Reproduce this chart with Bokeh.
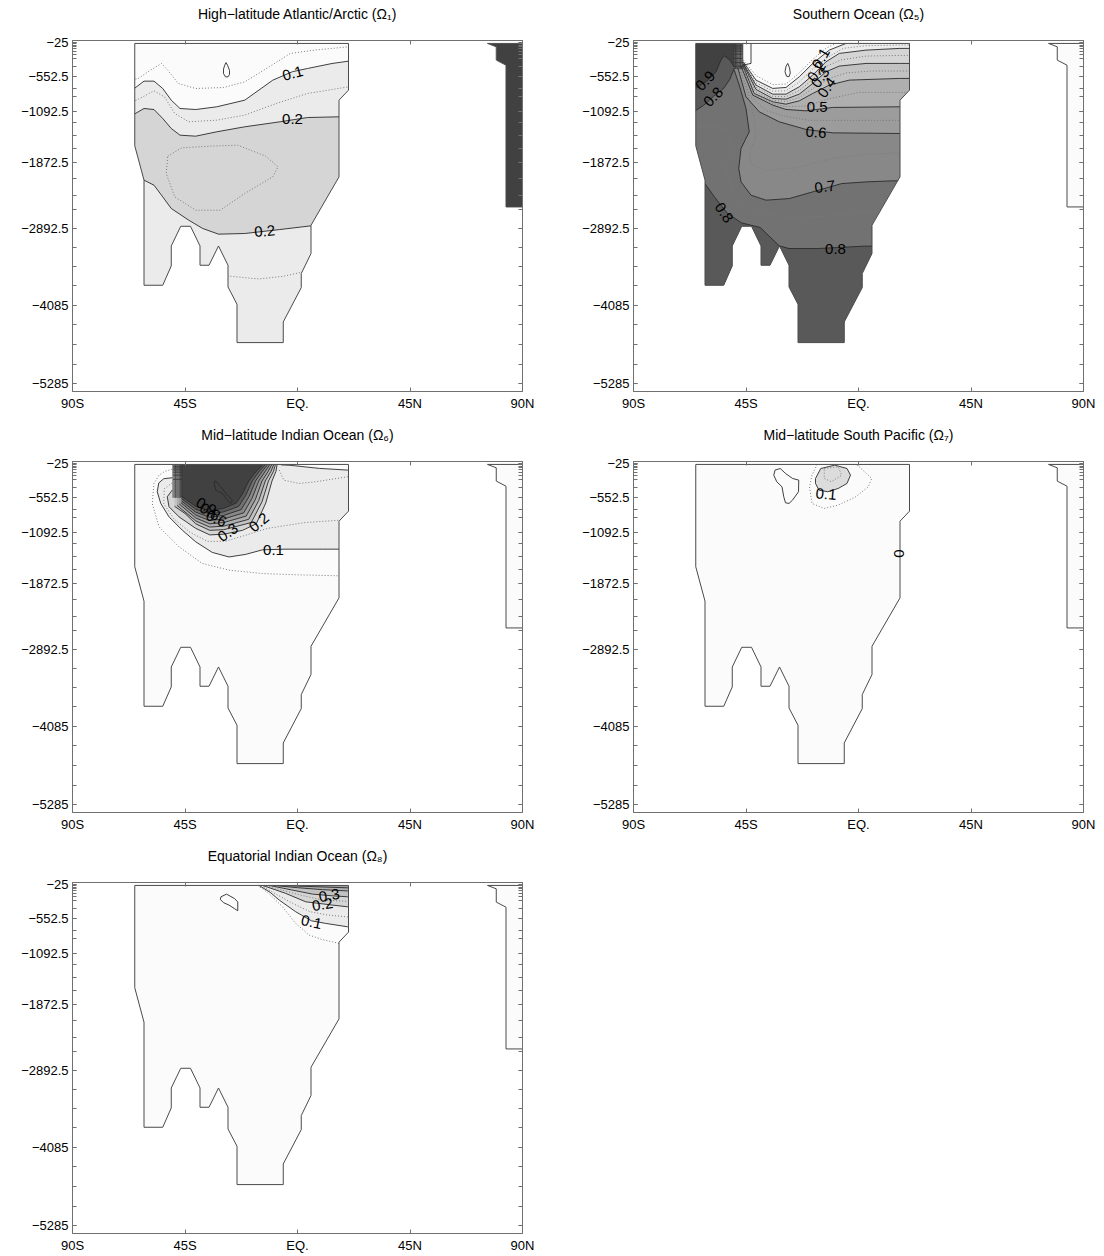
from bokeh.plotting import figure
from bokeh.models import FixedTicker, LinearAxis, Range1d
from bokeh.layouts import gridplot
from bokeh.embed import file_html
from bokeh.resources import INLINE
from bokeh.core.properties import value

FONT = "Liberation Sans"

# ---------------- axes ----------------
X_TICKS = [-90, -45, 0, 45, 90]
X_LABELS = ["90S", "45S", "EQ.", "45N", "90N"]
Y_MAJOR = [25, 552.5, 1092.5, 1872.5, 2892.5, 4085, 5285]
Y_LABELS = ["\u221225", "\u2212552.5", "\u22121092.5", "\u22121872.5", "\u22122892.5", "\u22124085", "\u22125285"]
Y_LEVELS = [25, 48, 73, 100, 130, 165, 210, 275, 395, 552.5, 740, 870, 1092.5, 1270, 1460, 1670,
            1872.5, 2130, 2380, 2600, 2892.5, 3190, 3480, 3780, 4085, 4380, 4680, 4985, 5285]
Y_BOTTOM, Y_TOP = -5405, 0

TITLES = ["High\u2212latitude Atlantic/Arctic (\u03a9\u2081)", "Southern Ocean (\u03a9\u2085)",
          "Mid\u2212latitude Indian Ocean (\u03a9\u2086)", "Mid\u2212latitude South Pacific (\u03a9\u2087)",
          "Equatorial Indian Ocean (\u03a9\u2088)"]

# gray level for each 0.1 band (0-0.1 ... >0.9)
BAND = ["#fbfbfb", "#ebebeb", "#d5d5d5", "#c2c2c2", "#afafaf", "#9c9c9c", "#888888", "#727272", "#595959", "#414141"]

# ---------------- basin outline (lat, depth m) ----------------
OCEAN = [(-65.1, 45), (20.4, 45), (20.4, 764), (16.6, 919), (16.6, 2100), (5.4, 2845), (5.4, 3280),
         (1.5, 3589), (1.5, 3805), (-5.7, 4334), (-5.7, 4652), (-24.2, 4652), (-24.2, 4062),
         (-27.8, 3795), (-27.8, 3461), (-31.6, 3164), (-35.4, 3461), (-39.0, 3461), (-39.0, 3164),
         (-42.8, 2861), (-46.7, 2861), (-50.5, 3164), (-50.5, 3471), (-53.9, 3769), (-61.4, 3769),
         (-61.4, 2151), (-65.1, 1621)]
ARCTIC = [(76.0, 45), (79.5, 97), (79.5, 302), (83.4, 380), (83.4, 2563), (90, 2563), (90, 45)]
OUTER = [(-100, -100), (100, -100), (100, 5600), (-100, 5600)]

# ---------------- panel 1 : High-latitude Atlantic/Arctic ----------------
P1_C01 = [(-66, 760), (-61.4, 626), (-57.4, 626), (-53.9, 739), (-50.5, 919), (-47.0, 1047), (-40.7, 1063),
          (-32.3, 1021), (-21.1, 919), (-9.9, 611), (-2.0, 480), (4.0, 431), (13.8, 354), (20.4, 318), (30, 310)]
P1_C02U = [(-66, 1150), (-61.4, 1047), (-57.4, 1063), (-53.9, 1201), (-50.5, 1355), (-47.0, 1458), (-40.7, 1473),
           (-32.3, 1406), (-21.1, 1329), (-7.0, 1252), (4.0, 1186), (16.6, 1175), (30, 1175)]
P1_C02L = [(-66, 2140), (-61.4, 2151), (-57.4, 2228), (-53.9, 2408), (-50.5, 2587), (-43.5, 2767), (-37.9, 2895),
           (-31.6, 2982), (-21.1, 2972), (-7.1, 2911), (5.4, 2854), (20, 2830)]
P1_D005 = [(-66, 600), (-63.7, 585), (-58.8, 456), (-54.4, 354), (-51.9, 456), (-47.7, 662), (-40.7, 739),
           (-29.5, 724), (-21.1, 637), (-11.3, 405), (-2.9, 200), (6.8, 148), (20.4, 97), (30, 95)]
P1_D015 = [(-66, 930), (-64.4, 919), (-57.4, 775), (-53.2, 868), (-49.1, 1124), (-43.5, 1252), (-32.3, 1227),
           (-21.1, 1149), (-8.5, 970), (4.0, 816), (20.4, 714), (30, 710)]
P1_D025 = [(-51.9, 1781), (-46.3, 1653), (-35.1, 1627), (-23.9, 1612), (-12.7, 1781), (-7.8, 1945), (-9.9, 2099),
           (-21.1, 2356), (-30.9, 2613), (-40.7, 2613), (-49.1, 2408), (-52.5, 2048), (-51.9, 1781)]
P1_D015B = [(-28, 3625), (-26.7, 3631), (-15.5, 3672), (-5.7, 3631), (1.5, 3570), (3, 3560)]
P1_ISLAND = [(-28.6, 340), (-28.0, 380), (-27.2, 460), (-27.2, 520), (-27.8, 560), (-28.8, 560), (-29.6, 510),
             (-29.6, 440), (-29.1, 380), (-28.6, 340)]
P1_LABELS = [("0.1", -1.9, 507, 15), ("0.2", -2.0, 1211, 0), ("0.2", -13.1, 2937, 5)]

# ---------------- panel 2 : Southern Ocean ----------------
P2_C01 = [(-46.1, 328), (-41.0, 610), (-34.3, 738), (-29.0, 723), (-23.7, 559), (-18.3, 353), (-11.7, 148),
          (-5.0, 45), (-3.0, 0)]
P2_C02 = [(-46.1, 353), (-41.0, 687), (-34.3, 826), (-29.0, 826), (-23.7, 713), (-18.3, 533), (-13.0, 328),
          (-7.7, 199), (3.0, 148), (16.3, 122), (30, 120)]
P2_C03 = [(-46.1, 369), (-41.0, 754), (-34.3, 893), (-29.0, 903), (-23.7, 826), (-18.3, 661), (-13.0, 482),
          (-7.7, 394), (3.0, 353), (16.3, 353), (30, 353)]
P2_C04 = [(-46.3, 384), (-41.7, 815), (-34.3, 944), (-29.0, 980), (-23.7, 929), (-18.3, 815), (-11.7, 687),
          (-3.7, 610), (16.3, 584), (30, 584)]
P2_C05 = [(-47.0, 394), (-42.3, 841), (-34.3, 995), (-29.0, 1062), (-21.0, 1083), (-10.3, 1031), (16.3, 1021),
          (30, 1021)]
P2_C06 = [(-48.3, 415), (-45.0, 867), (-39.7, 1098), (-31.7, 1252), (-21.0, 1370), (-10.3, 1422), (16.3, 1432),
          (30, 1432)]
P2_C07 = [(-49.7, 456), (-47.7, 687), (-45.0, 1047), (-43.7, 1406), (-47.0, 1663), (-47.9, 1971), (-47.0, 2177),
          (-43.0, 2382), (-37.0, 2459), (-27.7, 2434), (-18.3, 2331), (-6.7, 2203), (3.2, 2177), (13.0, 2162),
          (30, 2150)]
P2_C08U = [(-70, 1100), (-66, 1100), (-62, 1000), (-58, 860), (-54, 740), (-51.5, 600), (-49.7, 430)]
P2_C09 = [(-70, 760), (-66, 760), (-60.5, 620), (-57.0, 482), (-55.0, 300), (-53.7, 235), (-51.5, 300),
          (-49.7, 405)]
P2_C08L = [(-70, 2150), (-61.5, 2200), (-57.4, 2420), (-52.4, 2664), (-46.8, 2808), (-39.3, 2880), (-31.7, 3162),
           (-27.8, 3204), (-16.5, 3204), (1.8, 3168), (30, 3160)]
P2_D005 = [(-46.1, 300), (-41.0, 540), (-34.3, 680), (-29.0, 670), (-23.7, 500), (-18.3, 290), (-13.0, 120),
           (-9.0, 40)]
P2_D015 = [(-46.1, 340), (-41.0, 650), (-34.3, 780), (-29.0, 775), (-23.7, 640), (-18.3, 440), (-12.0, 250),
           (-6.0, 120), (3.0, 80), (16.3, 70), (30, 70)]
P2_D025 = [(-46.1, 360), (-41.0, 720), (-34.3, 860), (-29.0, 865), (-23.7, 770), (-18.3, 600), (-13.0, 400),
           (-7.0, 300), (3.0, 240), (16.3, 230), (30, 230)]
P2_D035 = [(-46.2, 377), (-41.3, 785), (-34.3, 920), (-29.0, 940), (-23.7, 880), (-18.3, 740), (-12.0, 590),
           (-5.0, 500), (5.0, 470), (16.3, 470), (30, 470)]
P2_D045 = [(-46.6, 390), (-42.0, 830), (-34.3, 970), (-29.0, 1020), (-21.0, 1010), (-12.0, 900), (0.0, 800),
           (16.3, 800), (30, 800)]
P2_D055 = [(-47.5, 400), (-43.5, 850), (-37.0, 1080), (-30.0, 1160), (-20.0, 1230), (-10.0, 1230), (16.3, 1230),
           (30, 1230)]
P2_D065 = [(-47.8, 440), (-44.5, 800), (-42.0, 1150), (-41.0, 1500), (-43.5, 1700), (-43.0, 1900), (-37.0, 2000),
           (-25.0, 1960), (-12.0, 1830), (0.0, 1760), (17.0, 1730), (30, 1720)]
P2_D075 = [(-70, 1340), (-66, 1340), (-56, 1320), (-52, 1400), (-51, 1700), (-53, 2000), (-50, 2350),
           (-44, 2580), (-36, 2680), (-26, 2730), (-12, 2700), (0, 2650), (16, 2600), (30, 2600)]
P2_NOTCH = [(-43.0, 45), (-43.0, 353), (-46.3, 379)]
P2_HATCH_LATS = [-49.7, -49.2, -48.7, -48.2, -47.7, -47.2, -46.7, -46.3]
P2_HATCH_DEPTHS = [73, 100, 130, 165, 210, 275, 340, 395]
P2_HATCH_BOTTOM = 440
P2_ISLAND = [(-28.3, 353), (-27.6, 420), (-27.3, 500), (-27.8, 558), (-28.8, 550), (-29.4, 480), (-29.0, 400),
             (-28.3, 353)]
P2_LABELS = [("0.1", -15.0, 276, 60), ("0.2", -16.8, 480, 55), ("0.3", -15.3, 570, 55), ("0.4", -12.7, 725, 55),
             ("0.5", -16.5, 1031, 0), ("0.6", -17.0, 1416, -5), ("0.7", -13.4, 2254, 8), ("0.8", -9.2, 3204, 0),
             ("0.8", -53.8, 2650, -55), ("0.9", -61.3, 620, 45), ("0.8", -58.1, 867, 45)]

# ---------------- panel 3 : Mid-latitude Indian Ocean ----------------
P3_C01 = [(-50.1, 250), (-53.5, 265), (-55.5, 330), (-56.1, 466), (-54.7, 646), (-51.4, 852), (-46.1, 1057),
          (-40.7, 1237), (-34.1, 1400), (-27.4, 1470), (-20.7, 1430), (-14.0, 1360), (-5.0, 1350), (10.0, 1350),
          (30, 1350)]
P3_C01S = [(-7.6, 20), (-6.5, 52), (-3.0, 58), (8.7, 106), (20.0, 132), (30, 135)]
P3_C02 = [(-50.1, 440), (-52.1, 543), (-51.4, 697), (-47.4, 852), (-40.7, 1030), (-35.1, 1130), (-29.5, 1120),
          (-22.0, 1060), (-16.5, 960), (-12.7, 640), (-10.2, 300), (-8.6, 150), (-8.2, 55), (-8.2, 20)]
P3_C03 = [(-49.2, 690), (-45.0, 800), (-40.7, 960), (-35.1, 1060), (-29.5, 1050), (-18.5, 940), (-14.2, 620),
          (-11.6, 300), (-9.6, 150), (-8.9, 55), (-8.9, 20)]
P3_C04 = [(-48.2, 675), (-40.7, 915), (-35.1, 1010), (-29.5, 995), (-19.5, 890), (-15.5, 600), (-12.9, 300),
          (-10.6, 150), (-9.6, 55), (-9.6, 20)]
P3_C05 = [(-47.3, 655), (-40.7, 870), (-35.1, 960), (-29.5, 940), (-20.5, 840), (-16.8, 580), (-14.2, 300),
          (-11.7, 150), (-10.4, 55), (-10.4, 20)]
P3_C06 = [(-46.6, 635), (-40.7, 825), (-35.1, 910), (-29.5, 885), (-21.5, 790), (-18.1, 560), (-15.5, 300),
          (-12.9, 150), (-11.2, 55), (-11.2, 20)]
P3_C07 = [(-46.3, 610), (-40.7, 780), (-35.1, 860), (-29.5, 830), (-22.5, 740), (-19.4, 540), (-16.8, 300),
          (-14.1, 150), (-12.1, 55), (-12.1, 20)]
P3_C08 = [(-46.3, 575), (-40.7, 735), (-35.1, 810), (-29.5, 775), (-23.5, 690), (-20.7, 520), (-18.1, 300),
          (-15.3, 150), (-13.0, 55), (-13.0, 20)]
P3_C09 = [(-46.3, 540), (-40.7, 690), (-35.1, 760), (-29.5, 720), (-24.5, 640), (-22.0, 500), (-19.5, 300),
          (-16.5, 150), (-14.0, 55), (-14.0, 20)]
P3_D005 = [(-50.1, 120), (-53.0, 150), (-55.4, 210), (-57.4, 338), (-58.1, 646), (-55.4, 1006), (-47.4, 1314),
           (-38.1, 1570), (-27.4, 1673), (-14.0, 1725), (0.0, 1745), (16.6, 1760), (30, 1760)]
P3_D015 = [(-50.1, 330), (-53.3, 420), (-53.5, 650), (-49.5, 880), (-43.0, 1090), (-36.0, 1230), (-29.0, 1230),
           (-22.0, 1150), (-12.0, 1030), (3.0, 940), (16.6, 905), (30, 900)]
P3_D015S = [(-7.3, 132), (-5.5, 287), (0.7, 338), (7.3, 312), (20.0, 235), (30, 230)]
P3_HATCH_LATS = [-49.8, -49.3, -48.8, -48.3, -47.8, -47.3, -46.8, -46.3]
P3_HATCH_DEPTHS = [73, 100, 130, 165, 210, 275]
P3_HATCH_BOTTOM = 560
P3_ISLAND = [(-33.4, 312), (-32.7, 441), (-30.0, 492), (-28.0, 595), (-26.7, 646), (-26.0, 595), (-28.0, 520),
             (-30.7, 390), (-32.6, 300), (-33.4, 312)]
P3_LABELS = [("0.9", -36.5, 690, -30), ("0.8", -35.0, 775, -30), ("0.6", -32.5, 880, -25),
             ("0.3", -27.8, 1093, 35), ("0.2", -15.4, 939, 40), ("0.1", -9.6, 1365, 0)]

# ---------------- panel 4 : Mid-latitude South Pacific ----------------
P4_BLOB = [(-17.2, 261), (-15.1, 108), (-9.5, 56), (-4.6, 108), (-3.2, 210), (-4.6, 338), (-8.1, 415),
           (-12.3, 466), (-15.8, 441), (-17.2, 338), (-17.2, 261)]
P4_D015 = [(-13.7, 108), (-8.1, 82), (-6.7, 210), (-10.9, 312), (-13.7, 261), (-13.7, 108)]
P4_D005 = [(-16.5, 45), (-18.6, 210), (-19.6, 390), (-18.6, 646), (-13.7, 723), (-8.1, 672), (-1.1, 543),
           (3.9, 390), (5.3, 261), (0.3, 82), (-1.0, 45)]
P4_ISLAND = [(-33.4, 133), (-31.3, 108), (-29.2, 184), (-26.4, 261), (-23.9, 287), (-24.0, 466), (-26.4, 595),
             (-27.8, 646), (-29.2, 636), (-29.9, 543), (-30.6, 390), (-32.7, 312), (-33.9, 210), (-33.4, 133)]
P4_LABELS = [("0.1", -13.0, 502, -5), ("0", 16.1, 1416, 90)]

# ---------------- panel 5 : Equatorial Indian Ocean ----------------
P5_C01 = [(-15.4, 45), (-11.0, 150), (-7.3, 271), (-0.7, 451), (5.6, 590), (11.3, 630), (20.0, 682), (30, 690)]
P5_C02 = [(-14.0, 45), (-9.0, 110), (-4.7, 168), (3.3, 297), (14.0, 348), (20.0, 374), (30, 374)]
P5_C03 = [(-11.3, 45), (-2.0, 117), (6.0, 179), (14.0, 205), (20.0, 220), (30, 220)]
P5_C04 = [(-9.5, 45), (0.0, 80), (10.0, 110), (20.0, 130), (30, 130)]
P5_C05 = [(-7.5, 45), (5.0, 62), (20.0, 82), (30, 85)]
P5_D005 = [(-16.0, 45), (-12.0, 150), (-6.0, 374), (-0.7, 630), (4.7, 810), (10.0, 880), (14.0, 913),
           (16.7, 939), (20, 960)]
P5_D015 = [(-14.6, 45), (-9.0, 170), (-2.0, 320), (5.0, 450), (12.0, 500), (20.0, 530), (30, 530)]
P5_D025 = [(-12.6, 45), (-5.0, 130), (2.0, 200), (10.0, 270), (20.0, 290), (30, 290)]
P5_ISLAND = [(-30.6, 220), (-28.4, 179), (-25.3, 245), (-23.9, 297), (-23.9, 435), (-25.3, 400), (-27.4, 348),
             (-29.5, 312), (-30.9, 261), (-30.6, 220)]
P5_LABELS = [("0.3", 12.7, 200, 10), ("0.2", 10.0, 340, 10), ("0.1", 5.6, 610, -12)]


# ---------------- helpers ----------------
def lx(pts):
    return [p[0] for p in pts]


def ly(pts):
    return [-p[1] for p in pts]


def above(pts):
    return pts + [(pts[-1][0], -80), (pts[0][0], -80)]


def below(pts):
    return pts + [(pts[-1][0], 6000), (pts[0][0], 6000)]


def between(a, b):
    return a + b[::-1]


def area(pts):
    s = 0.0
    for i in range(len(pts)):
        x1, y1 = pts[i]
        x2, y2 = pts[(i + 1) % len(pts)]
        s += x1 * y2 - x2 * y1
    return s / 2


def oriented(pts, positive):
    return pts if (area(pts) > 0) == positive else pts[::-1]


def make_panel(title, col, last_row):
    h = 414 if last_row else 421
    bl, br = (72, 30) if col == 0 else (81, 21)
    bb = 23 if last_row else 30
    p = figure(width=552, height=h, x_range=Range1d(-90, 90), y_range=Range1d(Y_BOTTOM, Y_TOP),
               output_backend="svg", toolbar_location=None,
               min_border_left=bl, min_border_right=br, min_border_top=40, min_border_bottom=bb)
    p.grid.visible = False
    p.background_fill_color = "white"
    p.border_fill_color = "white"
    p.outline_line_color = "#707070"

    yt = [-d for d in Y_MAJOR]
    ym = [-d for d in Y_LEVELS]
    bx = p.below[0]
    lyx = p.left[0]
    bx.ticker = FixedTicker(ticks=X_TICKS)
    bx.major_label_overrides = dict(zip(X_TICKS, X_LABELS))
    lyx.ticker = FixedTicker(ticks=yt, minor_ticks=ym)
    lyx.major_label_overrides = dict(zip(yt, Y_LABELS))
    # top axis carries the panel title as its axis label
    top = LinearAxis(ticker=FixedTicker(ticks=X_TICKS),
                     major_label_overrides={t: "" for t in X_TICKS},
                     axis_label=title)
    right = LinearAxis(ticker=FixedTicker(ticks=yt, minor_ticks=ym),
                       major_label_overrides={t: "" for t in yt})
    p.add_layout(top, "above")
    p.add_layout(right, "right")
    for ax in (bx, lyx, top, right):
        ax.major_tick_in = 4
        ax.major_tick_out = 0
        ax.minor_tick_in = 4
        ax.minor_tick_out = 0
        ax.axis_line_color = "#707070"
        ax.major_tick_line_color = "#707070"
        ax.minor_tick_line_color = "#707070"
        ax.major_label_text_font = FONT
        ax.major_label_text_font_size = "13px"
        ax.major_label_text_color = "black"
        ax.major_label_standoff = 4
    top.major_label_text_font_size = "1px"
    right.major_label_text_font_size = "1px"
    top.major_label_standoff = 0
    right.major_label_standoff = 0
    top.axis_label_text_font = FONT
    top.axis_label_text_font_size = "14px"
    top.axis_label_text_font_style = "normal"
    top.axis_label_text_color = "black"
    top.axis_label_standoff = 19
    return p


def fill(p, poly, color):
    p.patch(lx(poly), ly(poly), fill_color=color, line_color=None)


def solid(p, lines):
    p.multi_line([lx(l) for l in lines], [ly(l) for l in lines], line_color="#2a2a2a", line_width=0.9)


def dotted(p, lines):
    p.multi_line([lx(l) for l in lines], [ly(l) for l in lines], line_color="#7a7a7a", line_width=1.0,
                 line_dash="1 2")


def hatch(p, lats, depths, bottom):
    vlines = [[(la, OCEAN[0][1]), (la, bottom)] for la in lats]
    hlines = [[(lats[0], d), (lats[-1], d)] for d in depths]
    p.multi_line([lx(l) for l in vlines + hlines], [ly(l) for l in vlines + hlines],
                 line_color="#2a2a2a", line_width=0.7)


def base(p, color):
    fill(p, OCEAN, color)


def finish(p, arctic_color):
    fill(p, ARCTIC, arctic_color)
    outer = oriented(OUTER, True)
    h1 = oriented(OCEAN, False)
    h2 = oriented(ARCTIC, False)
    p.multi_polygons(xs=[[[lx(outer), lx(h1), lx(h2)]]], ys=[[[ly(outer), ly(h1), ly(h2)]]],
                     fill_color="white", line_color=None)
    loops = [OCEAN + [OCEAN[0]], ARCTIC + [ARCTIC[0]]]
    p.multi_line([lx(l) for l in loops], [ly(l) for l in loops], line_color="#4a4a4a", line_width=1.0)


def labels(p, labs):
    p.text(x=[l[1] for l in labs], y=[-l[2] for l in labs], text=[l[0] for l in labs],
           angle=[l[3] for l in labs], angle_units="deg", text_font=value(FONT), text_font_size="15px",
           text_align="center", text_baseline="middle", text_color="black")


# ---------------- panel 1 ----------------
p1 = make_panel(TITLES[0], 0, False)
base(p1, BAND[0])
fill(p1, below(P1_C01), BAND[1])
fill(p1, between(P1_C02U, P1_C02L), BAND[2])
solid(p1, [P1_C01, P1_C02U, P1_C02L])
dotted(p1, [P1_D005, P1_D015, P1_D025, P1_D015B])
finish(p1, BAND[9])
solid(p1, [P1_ISLAND])
labels(p1, P1_LABELS)

# ---------------- panel 2 ----------------
p2 = make_panel(TITLES[1], 1, False)
base(p2, BAND[7])
fill(p2, below(P2_C08L), BAND[8])
fill(p2, above(P2_C08U), BAND[8])
fill(p2, above(P2_C09), BAND[9])
for line, b in [(P2_C07, 6), (P2_C06, 5), (P2_C05, 4), (P2_C04, 3), (P2_C03, 2), (P2_C02, 1), (P2_C01, 0)]:
    fill(p2, above(line), BAND[b])
dotted(p2, [P2_D005, P2_D015, P2_D025, P2_D035, P2_D045, P2_D055, P2_D065, P2_D075])
solid(p2, [P2_C01, P2_C02, P2_C03, P2_C04, P2_C05, P2_C06, P2_C07, P2_C08U, P2_C08L, P2_C09, P2_NOTCH])
hatch(p2, P2_HATCH_LATS, P2_HATCH_DEPTHS, P2_HATCH_BOTTOM)
finish(p2, BAND[0])
solid(p2, [P2_ISLAND])
labels(p2, P2_LABELS)

# ---------------- panel 3 ----------------
p3 = make_panel(TITLES[2], 0, False)
base(p3, BAND[0])
fill(p3, above(P3_C01), BAND[1])
fill(p3, above(P3_C01S), BAND[0])
for line, b in [(P3_C02, 2), (P3_C03, 3), (P3_C04, 4), (P3_C05, 5), (P3_C06, 6), (P3_C07, 7), (P3_C08, 8),
                (P3_C09, 9)]:
    fill(p3, above(line), BAND[b])
dotted(p3, [P3_D005, P3_D015, P3_D015S])
solid(p3, [P3_C01, P3_C01S, P3_C02, P3_C03, P3_C04, P3_C05, P3_C06, P3_C07, P3_C08, P3_C09])
hatch(p3, P3_HATCH_LATS, P3_HATCH_DEPTHS, P3_HATCH_BOTTOM)
finish(p3, BAND[0])
solid(p3, [P3_ISLAND])
labels(p3, P3_LABELS)

# ---------------- panel 4 ----------------
p4 = make_panel(TITLES[3], 1, False)
base(p4, BAND[0])
fill(p4, P4_BLOB, "#dcdcdc")
dotted(p4, [P4_D005, P4_D015])
solid(p4, [P4_BLOB])
finish(p4, BAND[0])
solid(p4, [P4_ISLAND])
labels(p4, P4_LABELS)

# ---------------- panel 5 ----------------
p5 = make_panel(TITLES[4], 0, True)
base(p5, BAND[0])
for line, b in [(P5_C01, 1), (P5_C02, 2), (P5_C03, 3), (P5_C04, 4), (P5_C05, 5)]:
    fill(p5, above(line), BAND[b])
dotted(p5, [P5_D005, P5_D015, P5_D025])
solid(p5, [P5_C01, P5_C02, P5_C03, P5_C04, P5_C05])
finish(p5, BAND[0])
solid(p5, [P5_ISLAND])
labels(p5, P5_LABELS)

grid = gridplot([[p1, p2], [p3, p4], [p5, None]], toolbar_location=None)
open("out.html", "w").write(file_html(grid, INLINE))
